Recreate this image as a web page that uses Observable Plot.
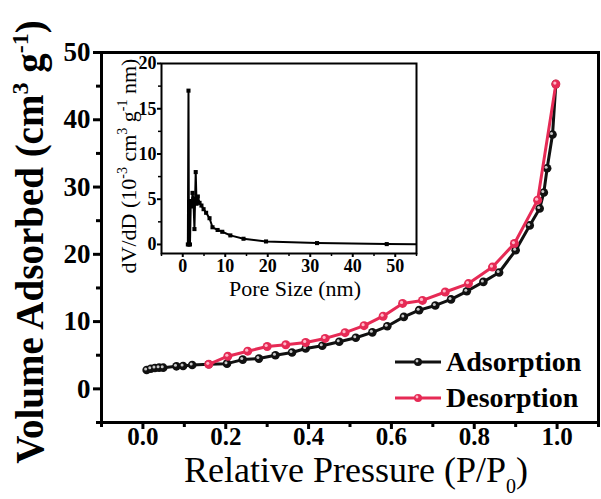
<!DOCTYPE html>
<html><head><meta charset="utf-8">
<script src="https://cdn.jsdelivr.net/npm/d3@7"></script>
<script src="https://cdn.jsdelivr.net/npm/@observablehq/plot@0.6"></script>
<style>
body{margin:0;background:#fff;}
#wrap{position:relative;width:601px;height:499px;overflow:hidden;}
#inset{position:absolute;left:100px;top:50px;}
</style></head><body><div id="wrap"><div id="inset"></div></div>
<script>
// ---- Main isotherm data ----
const adsP = [0.009,0.019,0.029,0.039,0.049,0.081,0.097,0.119,0.159,0.203,0.241,0.280,0.32,0.36,0.393,0.433,0.474,0.514,0.554,0.59,0.63,0.667,0.706,0.744,0.782,0.822,0.86,0.9,0.934,0.958,0.968,0.976,0.989,0.997];
const adsV = [2.8,3.0,3.1,3.15,3.15,3.35,3.4,3.55,3.65,3.75,4.35,4.5,5.0,5.4,6.0,6.4,7.0,7.6,8.4,9.3,10.7,11.7,12.4,13.3,14.5,15.9,17.3,20.6,24.3,26.8,29.2,32.8,37.8,45.3];
const desP = [0.997,0.953,0.897,0.844,0.786,0.73,0.675,0.627,0.58,0.534,0.488,0.44,0.393,0.345,0.30,0.253,0.205,0.159];
const desV = [45.3,28.05,21.6,18.1,15.65,14.4,13.15,12.7,10.8,9.4,8.35,7.5,6.9,6.55,6.3,5.6,4.85,3.65];
// ---- Inset pore size distribution ----
const poreD = [1.2,1.35,1.45,1.7,1.9,2.1,2.3,2.5,2.75,3.05,3.25,3.55,3.95,4.4,4.9,5.5,6.3,7.0,8.2,9.3,11.2,14.3,19.6,31.6,48,60];
const poreV = [0,17,0,0,4.8,4.2,5.7,5.0,1.7,8.0,4.5,5.3,4.6,4.3,3.9,3.5,2.9,1.9,1.6,1.4,1.0,0.63,0.33,0.15,0.04,0.02];
// ---- Ticks ----
const xMajor = [0,0.2,0.4,0.6,0.8,1.0];
const xMinor = [-0.1,0.1,0.3,0.5,0.7,0.9,1.1];
const yMajor = [0,10,20,30,40,50];
const yMinor = [-5,5,15,25,35,45];
const ixMajor = [0,10,20,30,40,50];
const ixMinor = [-5,5,15,25,35,45,55];
const iyMajor = [0,5,10,15,20];
const iyMinor = [2.5,7.5,12.5,17.5];
const seriesNames = ["Adsorption","Desorption"];
const colors = ["#111111","#e62a55"];

const FONT = "'Liberation Serif','Times New Roman',serif";
const ads = adsP.map((p,i)=>({p, v:adsV[i]}));
const des = desP.map((p,i)=>({p, v:desV[i]}));
const pore = poreD.map((d,i)=>({d, v:poreV[i]}));

const main = Plot.plot({
  width: 601, height: 499,
  marginLeft: 101, marginRight: 3, marginTop: 52, marginBottom: 77,
  style: {fontFamily: FONT, background: "#fff", color: "#000"},
  x: {domain: [-0.1, 1.1], label: null},
  y: {domain: [-5, 50], label: null},
  marks: [
    Plot.axisX(xMajor, {tickSize: 7, tickPadding: -2, fontSize: 25, fontWeight: "bold", strokeWidth: 3, tickFormat: d => d.toFixed(1), label: null}),
    Plot.axisX(xMinor, {tickSize: 5, text: null, strokeWidth: 3, label: null}),
    Plot.axisY(yMajor, {tickSize: 8, tickPadding: 3, fontSize: 27, fontWeight: "bold", strokeWidth: 3, tickFormat: d => String(d), label: null}),
    Plot.axisY(yMinor, {tickSize: 5, text: null, strokeWidth: 3, label: null}),
    Plot.line(ads, {x: "p", y: "v", stroke: colors[0], strokeWidth: 3}),
    Plot.dot(ads, {x: "p", y: "v", r: 4.3, fill: colors[0]}),
    Plot.dot(ads, {x: "p", y: "v", r: 1.5, fill: "#c8c8c8", dx: -1, dy: -1}),
    Plot.line(des, {x: "p", y: "v", stroke: colors[1], strokeWidth: 3}),
    Plot.dot(des, {x: "p", y: "v", r: 4.5, fill: colors[1]}),
    Plot.dot(des, {x: "p", y: "v", r: 1.6, fill: "#ffb8c8", dx: -1, dy: -1}),
    Plot.frame({stroke: "#000", strokeWidth: 3})
  ]
});
document.getElementById("wrap").prepend(main);

const svg = d3.select(main);
// X title
const xt = svg.append("text").attr("x", 356).attr("y", 482).attr("text-anchor", "middle")
  .attr("font-family", FONT).attr("font-size", 36).attr("fill", "#000");
xt.append("tspan").text("Relative Pressure (P/P");
xt.append("tspan").attr("font-size", 20).attr("dy", 11).text("0");
xt.append("tspan").attr("dy", -11).text(")");
// Y title
const yt = svg.append("text").attr("transform", "translate(43,242) rotate(-90)").attr("text-anchor", "middle")
  .attr("font-family", FONT).attr("font-size", 39).attr("font-weight", "bold").attr("fill", "#000");
yt.append("tspan").text("Volume Adsorbed (cm");
yt.append("tspan").attr("font-size", 24).attr("dy", -15).text("3");
yt.append("tspan").attr("dy", 15).text(" g");
yt.append("tspan").attr("font-size", 24).attr("dy", -15).text("-1");
yt.append("tspan").attr("dy", 15).text(")");
// Legend
seriesNames.forEach((name, i) => {
  const y = 362 + i * 36;
  svg.append("line").attr("x1", 395).attr("x2", 441).attr("y1", y).attr("y2", y)
    .attr("stroke", colors[i]).attr("stroke-width", 3);
  svg.append("circle").attr("cx", 418).attr("cy", y).attr("r", 4).attr("fill", colors[i]);
  svg.append("circle").attr("cx", 417).attr("cy", y - 1).attr("r", 1.4).attr("fill", i ? "#ffb8c8" : "#c8c8c8");
  svg.append("text").attr("x", 446).attr("y", y + 9).attr("text-anchor", "start")
    .attr("font-family", FONT).attr("font-size", 28)
    .attr("font-weight", "bold").attr("fill", "#000").text(name);
});

// ---- Inset ----
const inset = Plot.plot({
  width: 320, height: 250,
  marginLeft: 61, marginRight: 4, marginTop: 13, marginBottom: 47,
  style: {fontFamily: FONT, background: "transparent", color: "#000", overflow: "visible"},
  x: {domain: [-5, 55], label: null},
  y: {domain: [-1, 20], label: null},
  marks: [
    Plot.frame({fill: "#fff"}),
    Plot.axisX(ixMajor, {tickSize: 4, tickPadding: 2, fontSize: 18, fontWeight: "bold", strokeWidth: 2, label: null}),
    Plot.axisX(ixMinor, {tickSize: 3, text: null, strokeWidth: 1.5, label: null}),
    Plot.axisY(iyMajor, {tickSize: 4, tickPadding: 1, fontSize: 18, fontWeight: "bold", strokeWidth: 2, label: null}),
    Plot.axisY(iyMinor, {tickSize: 3, text: null, strokeWidth: 1.5, label: null}),
    Plot.line(pore, {x: "d", y: "v", stroke: "#000", strokeWidth: 2, clip: true}),
    Plot.dot(pore, {x: "d", y: "v", symbol: "square", r: 2.3, fill: "#000", clip: true}),
    Plot.frame({stroke: "#000", strokeWidth: 2})
  ]
});
document.getElementById("inset").appendChild(inset);
const isvg = d3.select(inset);
isvg.append("text").attr("x", 195).attr("y", 246).attr("text-anchor", "middle")
  .attr("font-family", FONT).attr("font-size", 22).attr("fill", "#000").text("Pore Size (nm)");
const iyt = isvg.append("text").attr("transform", "translate(36,116) rotate(-90)").attr("text-anchor", "middle")
  .attr("font-family", FONT).attr("font-size", 22).attr("fill", "#000");
iyt.append("tspan").text("dV/dD (10");
iyt.append("tspan").attr("font-size", 14).attr("dy", -9).text("-3");
iyt.append("tspan").attr("dy", 9).text(" cm");
iyt.append("tspan").attr("font-size", 14).attr("dy", -9).text("3");
iyt.append("tspan").attr("dy", 9).text(" g");
iyt.append("tspan").attr("font-size", 14).attr("dy", -9).text("-1");
iyt.append("tspan").attr("dy", 9).text(" nm)");
</script>
</body></html>
